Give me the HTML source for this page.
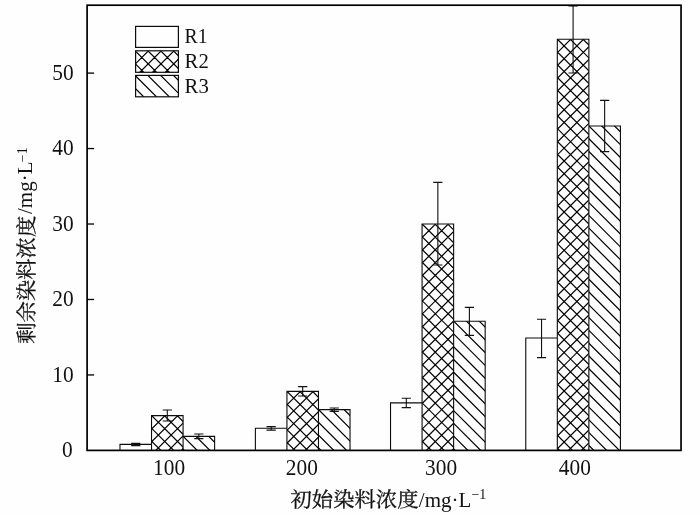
<!DOCTYPE html>
<html lang="zh"><head><meta charset="utf-8"><title>chart</title>
<style>
html,body{margin:0;padding:0;background:#fefefe;}
body{width:700px;height:516px;overflow:hidden;}
svg{display:block;}
text{font-family:"Liberation Serif","Noto Serif CJK SC",serif;fill:#111;}
</style></head><body>
<svg width="700" height="516" viewBox="0 0 700 516">
<rect width="700" height="516" fill="#fefefe"/>
<defs><clipPath id="c1"><rect x="151.53" y="415.60" width="31.55" height="34.80"/></clipPath><clipPath id="c2"><rect x="183.08" y="436.40" width="31.55" height="14.00"/></clipPath><clipPath id="c3"><rect x="286.93" y="391.40" width="31.55" height="59.00"/></clipPath><clipPath id="c4"><rect x="318.48" y="409.60" width="31.55" height="40.80"/></clipPath><clipPath id="c5"><rect x="422.08" y="224.00" width="31.55" height="226.40"/></clipPath><clipPath id="c6"><rect x="453.63" y="321.20" width="31.55" height="129.20"/></clipPath><clipPath id="c7"><rect x="557.32" y="39.20" width="31.55" height="411.20"/></clipPath><clipPath id="c8"><rect x="588.88" y="126.00" width="31.55" height="324.40"/></clipPath><clipPath id="c9"><rect x="135.60" y="50.80" width="42.80" height="21.50"/></clipPath><clipPath id="c10"><rect x="135.60" y="75.40" width="42.80" height="21.40"/></clipPath></defs>
<path clip-path="url(#c1)" d="M150.53 388.94L184.08 422.49M150.53 401.72L184.08 435.27M150.53 414.50L184.08 448.05M150.53 427.28L184.08 460.83M150.53 440.06L184.08 473.61M150.53 417.30L184.08 383.75M150.53 430.08L184.08 396.53M150.53 442.86L184.08 409.31M150.53 455.64L184.08 422.09M150.53 468.42L184.08 434.87M150.53 481.20L184.08 447.65" stroke="#000" stroke-width="1.22" fill="none"/>
<path clip-path="url(#c2)" d="M182.08 409.74L215.62 443.29M182.08 422.52L215.62 456.07M182.08 435.30L215.62 468.85M182.08 448.08L215.62 481.63" stroke="#000" stroke-width="1.22" fill="none"/>
<path d="M119.98 450.4V444.40H151.53M151.53 450.4V415.60M151.53 415.60H183.08M183.08 450.4V415.60M183.08 436.40H214.62V450.4" fill="none" stroke="#0c0c0c" stroke-width="1.1" stroke-linecap="square"/>
<path d="M135.75 443.40V445.60M131.15 443.40H140.35M131.15 445.60H140.35" stroke="#111" stroke-width="1.1" fill="none"/>
<path d="M167.30 410.00V421.00M162.70 410.00H171.90M162.70 421.00H171.90" stroke="#111" stroke-width="1.1" fill="none"/>
<path d="M198.85 434.00V438.60M194.25 434.00H203.45M194.25 438.60H203.45" stroke="#111" stroke-width="1.1" fill="none"/>
<path clip-path="url(#c3)" d="M285.93 364.74L319.48 398.29M285.93 377.52L319.48 411.07M285.93 390.30L319.48 423.85M285.93 403.08L319.48 436.63M285.93 415.86L319.48 449.41M285.93 428.64L319.48 462.19M285.93 441.42L319.48 474.97M285.93 393.10L319.48 359.55M285.93 405.88L319.48 372.33M285.93 418.66L319.48 385.11M285.93 431.44L319.48 397.89M285.93 444.22L319.48 410.67M285.93 457.00L319.48 423.45M285.93 469.78L319.48 436.23M285.93 482.56L319.48 449.01" stroke="#000" stroke-width="1.22" fill="none"/>
<path clip-path="url(#c4)" d="M317.48 382.94L351.02 416.49M317.48 395.72L351.02 429.27M317.48 408.50L351.02 442.05M317.48 421.28L351.02 454.83M317.48 434.06L351.02 467.61M317.48 446.84L351.02 480.39" stroke="#000" stroke-width="1.22" fill="none"/>
<path d="M255.38 450.4V428.30H286.93M286.93 450.4V391.40M286.93 391.40H318.48M318.48 450.4V391.40M318.48 409.60H350.02V450.4" fill="none" stroke="#0c0c0c" stroke-width="1.1" stroke-linecap="square"/>
<path d="M271.15 426.60V430.10M266.55 426.60H275.75M266.55 430.10H275.75" stroke="#111" stroke-width="1.1" fill="none"/>
<path d="M302.70 386.60V396.00M298.10 386.60H307.30M298.10 396.00H307.30" stroke="#111" stroke-width="1.1" fill="none"/>
<path d="M334.25 408.00V411.40M329.65 408.00H338.85M329.65 411.40H338.85" stroke="#111" stroke-width="1.1" fill="none"/>
<path clip-path="url(#c5)" d="M421.08 197.34L454.63 230.89M421.08 210.12L454.63 243.67M421.08 222.90L454.63 256.45M421.08 235.68L454.63 269.23M421.08 248.46L454.63 282.01M421.08 261.24L454.63 294.79M421.08 274.02L454.63 307.57M421.08 286.80L454.63 320.35M421.08 299.58L454.63 333.13M421.08 312.36L454.63 345.91M421.08 325.14L454.63 358.69M421.08 337.92L454.63 371.47M421.08 350.70L454.63 384.25M421.08 363.48L454.63 397.03M421.08 376.26L454.63 409.81M421.08 389.04L454.63 422.59M421.08 401.82L454.63 435.37M421.08 414.60L454.63 448.15M421.08 427.38L454.63 460.93M421.08 440.16L454.63 473.71M421.08 225.70L454.63 192.15M421.08 238.48L454.63 204.93M421.08 251.26L454.63 217.71M421.08 264.04L454.63 230.49M421.08 276.82L454.63 243.27M421.08 289.60L454.63 256.05M421.08 302.38L454.63 268.83M421.08 315.16L454.63 281.61M421.08 327.94L454.63 294.39M421.08 340.72L454.63 307.17M421.08 353.50L454.63 319.95M421.08 366.28L454.63 332.73M421.08 379.06L454.63 345.51M421.08 391.84L454.63 358.29M421.08 404.62L454.63 371.07M421.08 417.40L454.63 383.85M421.08 430.18L454.63 396.63M421.08 442.96L454.63 409.41M421.08 455.74L454.63 422.19M421.08 468.52L454.63 434.97M421.08 481.30L454.63 447.75" stroke="#000" stroke-width="1.22" fill="none"/>
<path clip-path="url(#c6)" d="M452.63 294.54L486.18 328.09M452.63 307.32L486.18 340.87M452.63 320.10L486.18 353.65M452.63 332.88L486.18 366.43M452.63 345.66L486.18 379.21M452.63 358.44L486.18 391.99M452.63 371.22L486.18 404.77M452.63 384.00L486.18 417.55M452.63 396.78L486.18 430.33M452.63 409.56L486.18 443.11M452.63 422.34L486.18 455.89M452.63 435.12L486.18 468.67M452.63 447.90L486.18 481.45" stroke="#000" stroke-width="1.22" fill="none"/>
<path d="M390.53 450.4V402.90H422.08M422.08 450.4V224.00M422.08 224.00H453.63M453.63 450.4V224.00M453.63 321.20H485.18V450.4" fill="none" stroke="#0c0c0c" stroke-width="1.1" stroke-linecap="square"/>
<path d="M406.30 398.30V407.60M401.70 398.30H410.90M401.70 407.60H410.90" stroke="#111" stroke-width="1.1" fill="none"/>
<path d="M437.85 182.40V265.00M433.25 182.40H442.45M433.25 265.00H442.45" stroke="#111" stroke-width="1.1" fill="none"/>
<path d="M469.40 307.40V335.40M464.80 307.40H474.00M464.80 335.40H474.00" stroke="#111" stroke-width="1.1" fill="none"/>
<path clip-path="url(#c7)" d="M556.32 12.54L589.88 46.09M556.32 25.32L589.88 58.87M556.32 38.10L589.88 71.65M556.32 50.88L589.88 84.43M556.32 63.66L589.88 97.21M556.32 76.44L589.88 109.99M556.32 89.22L589.88 122.77M556.32 102.00L589.88 135.55M556.32 114.78L589.88 148.33M556.32 127.56L589.88 161.11M556.32 140.34L589.88 173.89M556.32 153.12L589.88 186.67M556.32 165.90L589.88 199.45M556.32 178.68L589.88 212.23M556.32 191.46L589.88 225.01M556.32 204.24L589.88 237.79M556.32 217.02L589.88 250.57M556.32 229.80L589.88 263.35M556.32 242.58L589.88 276.13M556.32 255.36L589.88 288.91M556.32 268.14L589.88 301.69M556.32 280.92L589.88 314.47M556.32 293.70L589.88 327.25M556.32 306.48L589.88 340.03M556.32 319.26L589.88 352.81M556.32 332.04L589.88 365.59M556.32 344.82L589.88 378.37M556.32 357.60L589.88 391.15M556.32 370.38L589.88 403.93M556.32 383.16L589.88 416.71M556.32 395.94L589.88 429.49M556.32 408.72L589.88 442.27M556.32 421.50L589.88 455.05M556.32 434.28L589.88 467.83M556.32 447.06L589.88 480.61M556.32 40.90L589.88 7.35M556.32 53.68L589.88 20.13M556.32 66.46L589.88 32.91M556.32 79.24L589.88 45.69M556.32 92.02L589.88 58.47M556.32 104.80L589.88 71.25M556.32 117.58L589.88 84.03M556.32 130.36L589.88 96.81M556.32 143.14L589.88 109.59M556.32 155.92L589.88 122.37M556.32 168.70L589.88 135.15M556.32 181.48L589.88 147.93M556.32 194.26L589.88 160.71M556.32 207.04L589.88 173.49M556.32 219.82L589.88 186.27M556.32 232.60L589.88 199.05M556.32 245.38L589.88 211.83M556.32 258.16L589.88 224.61M556.32 270.94L589.88 237.39M556.32 283.72L589.88 250.17M556.32 296.50L589.88 262.95M556.32 309.28L589.88 275.73M556.32 322.06L589.88 288.51M556.32 334.84L589.88 301.29M556.32 347.62L589.88 314.07M556.32 360.40L589.88 326.85M556.32 373.18L589.88 339.63M556.32 385.96L589.88 352.41M556.32 398.74L589.88 365.19M556.32 411.52L589.88 377.97M556.32 424.30L589.88 390.75M556.32 437.08L589.88 403.53M556.32 449.86L589.88 416.31M556.32 462.64L589.88 429.09M556.32 475.42L589.88 441.87" stroke="#000" stroke-width="1.22" fill="none"/>
<path clip-path="url(#c8)" d="M587.88 99.34L621.42 132.89M587.88 112.12L621.42 145.67M587.88 124.90L621.42 158.45M587.88 137.68L621.42 171.23M587.88 150.46L621.42 184.01M587.88 163.24L621.42 196.79M587.88 176.02L621.42 209.57M587.88 188.80L621.42 222.35M587.88 201.58L621.42 235.13M587.88 214.36L621.42 247.91M587.88 227.14L621.42 260.69M587.88 239.92L621.42 273.47M587.88 252.70L621.42 286.25M587.88 265.48L621.42 299.03M587.88 278.26L621.42 311.81M587.88 291.04L621.42 324.59M587.88 303.82L621.42 337.37M587.88 316.60L621.42 350.15M587.88 329.38L621.42 362.93M587.88 342.16L621.42 375.71M587.88 354.94L621.42 388.49M587.88 367.72L621.42 401.27M587.88 380.50L621.42 414.05M587.88 393.28L621.42 426.83M587.88 406.06L621.42 439.61M587.88 418.84L621.42 452.39M587.88 431.62L621.42 465.17M587.88 444.40L621.42 477.95" stroke="#000" stroke-width="1.22" fill="none"/>
<path d="M525.77 450.4V338.00H557.32M557.32 450.4V39.20M557.32 39.20H588.88M588.88 450.4V39.20M588.88 126.00H620.42V450.4" fill="none" stroke="#0c0c0c" stroke-width="1.1" stroke-linecap="square"/>
<path d="M541.55 319.20V357.60M536.95 319.20H546.15M536.95 357.60H546.15" stroke="#111" stroke-width="1.1" fill="none"/>
<path d="M573.10 6.00V73.00M568.50 6.00H577.70M568.50 73.00H577.70" stroke="#111" stroke-width="1.1" fill="none"/>
<path d="M604.65 100.40V151.60M600.05 100.40H609.25M600.05 151.60H609.25" stroke="#111" stroke-width="1.1" fill="none"/>
<rect x="135.6" y="26.4" width="42.80" height="21.00" fill="none" stroke="#0c0c0c" stroke-width="1.2000000000000002"/>
<text x="184.6" y="43.30" font-size="21.8" textLength="23" lengthAdjust="spacingAndGlyphs">R1</text>
<path clip-path="url(#c9)" d="M134.60 11.96L179.40 56.76M134.60 24.74L179.40 69.54M134.60 37.52L179.40 82.32M134.60 50.30L179.40 95.10M134.60 63.08L179.40 107.88M134.60 51.90L179.40 7.10M134.60 64.68L179.40 19.88M134.60 77.46L179.40 32.66M134.60 90.24L179.40 45.44M134.60 103.02L179.40 58.22M134.60 115.80L179.40 71.00" stroke="#000" stroke-width="1.22" fill="none"/>
<rect x="135.6" y="50.8" width="42.80" height="21.50" fill="none" stroke="#0c0c0c" stroke-width="1.2000000000000002"/>
<text x="184.6" y="68.20" font-size="21.8" textLength="24.2" lengthAdjust="spacingAndGlyphs">R2</text>
<path clip-path="url(#c10)" d="M134.60 36.56L179.40 81.36M134.60 49.34L179.40 94.14M134.60 62.12L179.40 106.92M134.60 74.90L179.40 119.70M134.60 87.68L179.40 132.48" stroke="#000" stroke-width="1.22" fill="none"/>
<rect x="135.6" y="75.4" width="42.80" height="21.40" fill="none" stroke="#0c0c0c" stroke-width="1.2000000000000002"/>
<text x="184.6" y="92.70" font-size="21.8" textLength="24.2" lengthAdjust="spacingAndGlyphs">R3</text>
<rect x="87.1" y="5.2" width="593.9499999999999" height="445.2" fill="none" stroke="#000" stroke-width="1.7"/>
<text transform="translate(72.7 457.05) scale(0.95 1)" font-size="22.5" text-anchor="end">0</text>
<path d="M87.1 374.94H94.1" stroke="#000" stroke-width="1.3"/>
<text transform="translate(73.6 381.59) scale(0.95 1)" font-size="22.5" text-anchor="end">10</text>
<path d="M87.1 299.48H94.1" stroke="#000" stroke-width="1.3"/>
<text transform="translate(73.6 306.13) scale(0.95 1)" font-size="22.5" text-anchor="end">20</text>
<path d="M87.1 224.02H94.1" stroke="#000" stroke-width="1.3"/>
<text transform="translate(73.6 230.67) scale(0.95 1)" font-size="22.5" text-anchor="end">30</text>
<path d="M87.1 148.56H94.1" stroke="#000" stroke-width="1.3"/>
<text transform="translate(73.6 155.21) scale(0.95 1)" font-size="22.5" text-anchor="end">40</text>
<path d="M87.1 73.10H94.1" stroke="#000" stroke-width="1.3"/>
<text transform="translate(73.6 79.75) scale(0.95 1)" font-size="22.5" text-anchor="end">50</text>
<text transform="translate(169.10 475.15) scale(0.95 1)" font-size="22.5" text-anchor="middle">100</text>
<text transform="translate(301.90 475.15) scale(0.95 1)" font-size="22.5" text-anchor="middle">200</text>
<text transform="translate(441.10 475.15) scale(0.95 1)" font-size="22.5" text-anchor="middle">300</text>
<text transform="translate(574.80 475.15) scale(0.95 1)" font-size="22.5" text-anchor="middle">400</text>
<g transform="translate(290.5 506.7)"><text x="0" y="0" font-size="21.35" stroke="#111" stroke-width="0.3" transform="scale(1 0.95)">初始染料浓度</text><text x="128.3" y="0" font-size="21">/mg·L</text><text x="180.9" y="-8.2" font-size="14">−1</text></g>
<g transform="translate(33.5 343.8) rotate(-90)"><text x="0" y="0" font-size="21.35" stroke="#111" stroke-width="0.3" transform="scale(1 0.95)">剩余染料浓度</text><text x="129.8" y="-1.7" font-size="21">/mg·L</text><text x="181.6" y="-7.0" font-size="14">−1</text></g>
</svg>
</body></html>
